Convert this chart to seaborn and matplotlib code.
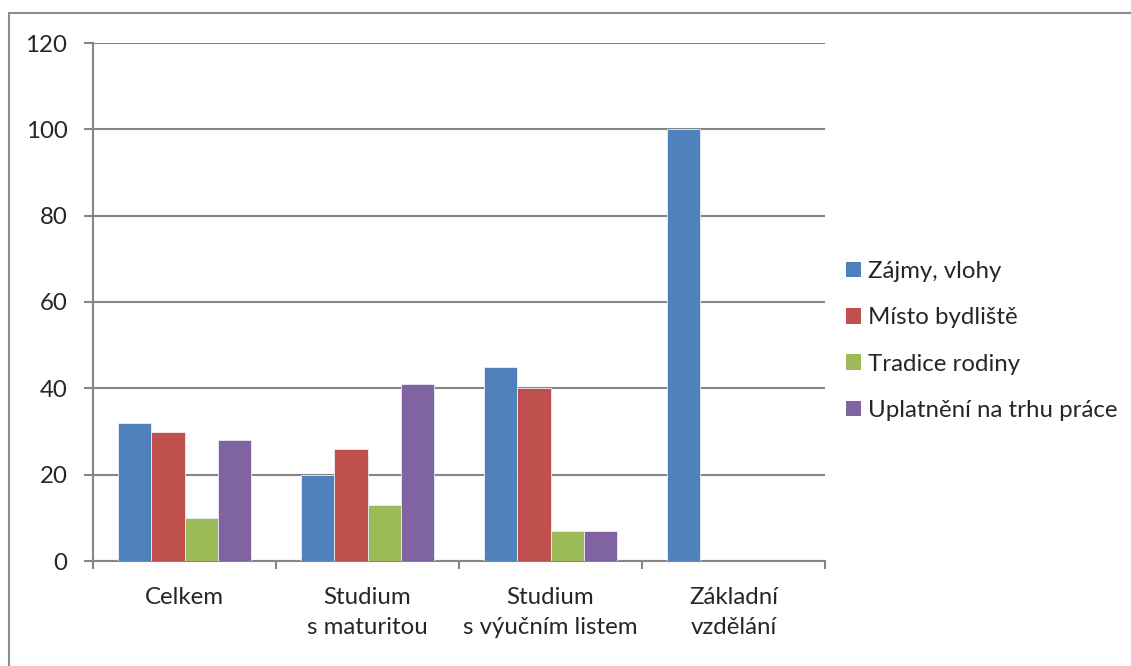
import pandas as pd
import seaborn as sns
import matplotlib.pyplot as plt
from matplotlib.lines import Line2D
from matplotlib.patches import Patch

# data
categories = ['Celkem', 'Studium\ns maturitou', 'Studium\ns výučním listem', 'Základní\nvzdělání']
series = ['Zájmy, vlohy', 'Místo bydliště', 'Tradice rodiny', 'Uplatnění na trhu práce']
zajmy = [32, 20, 45, 100]
misto = [30, 26, 40, 0]
tradice = [10, 13, 7, 0]
uplatneni = [28, 41, 7, 0]
colors = ['#4F81BD', '#C0504D', '#9BBB59', '#8064A2']

rows = []
for name, vals in zip(series, [zajmy, misto, tradice, uplatneni]):
    for cat, v in zip(categories, vals):
        rows.append({'kategorie': cat, 'serie': name, 'hodnota': v})
df = pd.DataFrame(rows)

sns.set_style('white')
plt.rcParams['font.family'] = ['Lato', 'DejaVu Sans']
fs = 17.3

W, H = 1131, 666
fig = plt.figure(figsize=(W / 100, H / 100), dpi=100)
ax = fig.add_axes([93 / W, (H - 561) / H, (825 - 93) / W, (561 - 43) / H])

sns.barplot(data=df, x='kategorie', y='hodnota', hue='serie', palette=colors,
            width=0.73, ax=ax, legend=False, edgecolor='#e8eef6', linewidth=0.6,
            saturation=1, zorder=3)

grid_c = '#868686'
ax.set_ylim(0, 120)
ax.set_xlim(-0.5, 3.5)
ax.set_yticks(range(0, 121, 20))
ax.yaxis.grid(True, color=grid_c, linewidth=1.5, zorder=0)
ax.set_axisbelow(True)
for s in ['top', 'right']:
    ax.spines[s].set_visible(False)
for s in ['left', 'bottom']:
    ax.spines[s].set_color(grid_c)
    ax.spines[s].set_linewidth(1.5)
ax.set_xlabel('')
ax.set_ylabel('')

# x ticks at category boundaries, labels centered
ax.set_xticks([-0.5, 0.5, 1.5, 2.5, 3.5])
ax.set_xticklabels([])
ax.set_xticks([0, 1, 2, 3], minor=True)
ax.set_xticklabels(categories, minor=True, fontsize=fs, linespacing=1.5, va='top')
ax.tick_params(axis='x', which='major', length=5.8, width=1.5, color=grid_c, direction='out')
ax.tick_params(axis='x', which='minor', length=0, pad=19)
ax.tick_params(axis='y', length=6.5, width=1.5, color=grid_c, labelsize=fs, pad=12)
ax.tick_params(axis='both', which='both', bottom=True, left=True)

handles = [Patch(facecolor=c, edgecolor='none') for c in colors]
fig.legend(handles, series, loc='center left', bbox_to_anchor=(836 / W, (H - 341) / H),
           frameon=False, fontsize=fs, handlelength=0.62, handleheight=0.62,
           handletextpad=0.3, labelspacing=1.05, borderaxespad=0)

# outer chart border (clipped by the image on right and bottom)
fig.add_artist(Line2D([9 / W, 9 / W], [(H - 13) / H, 0], color='#8c8c8c', linewidth=1.5))
fig.add_artist(Line2D([9 / W, 1], [(H - 13) / H, (H - 13) / H], color='#8c8c8c', linewidth=1.5))

fig.savefig('out.png', dpi=100)
